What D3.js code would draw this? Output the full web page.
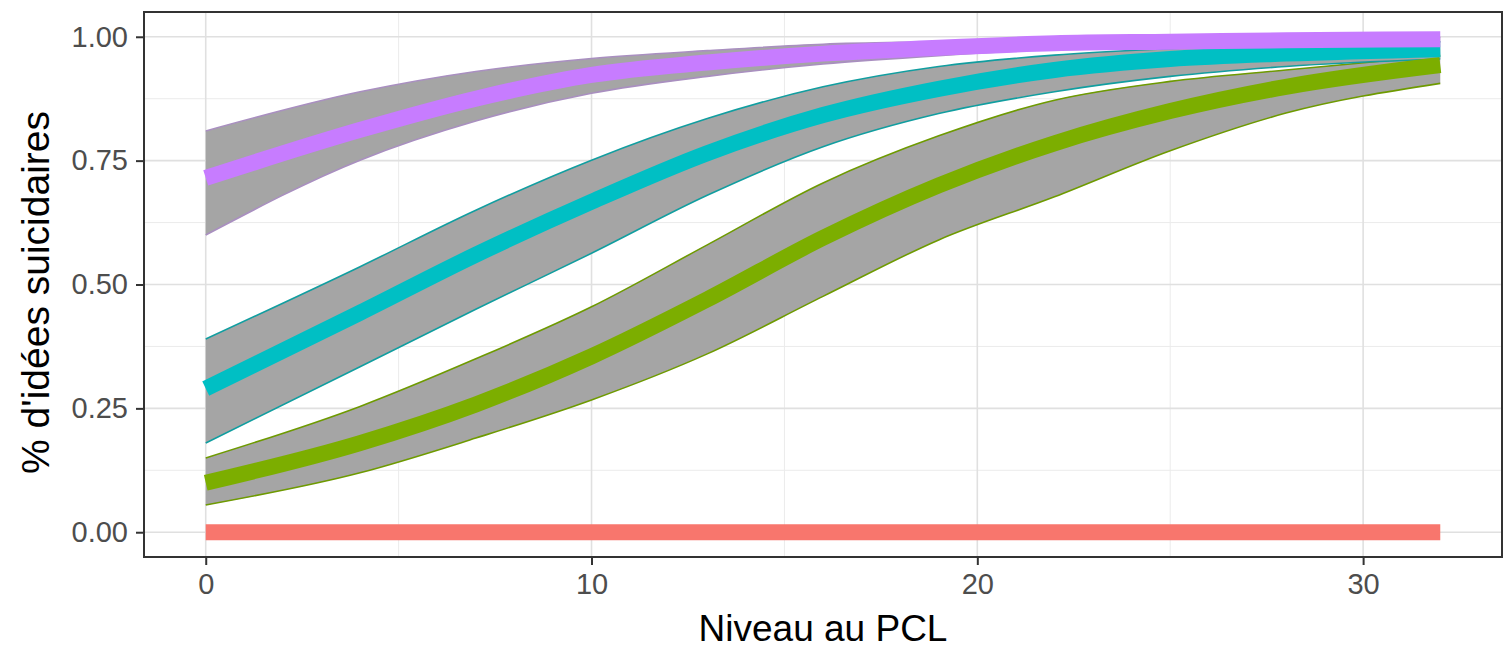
<!DOCTYPE html>
<html>
<head>
<meta charset="utf-8">
<script src="https://cdn.jsdelivr.net/npm/d3@7"></script>
<style>
  body { margin: 0; background: #fff; }
  text { font-family: "Liberation Sans", Arial, sans-serif; }
</style>
</head>
<body>
<div id="chart"></div>
<script>
// Chart size
var svgWidth = 1506;
var svgHeight = 651;

// Panel position (pixels)
var panel = { left: 144, right: 1502, top: 12, bottom: 557 };

// Data
var pcl = [0, 4, 7, 10, 13, 16, 19, 22, 25, 28, 32];

var purpleMean = [0.715, 0.812, 0.875, 0.923, 0.948, 0.966, 0.978, 0.987, 0.990, 0.993, 0.995];
var purpleHigh = [0.810, 0.889, 0.930, 0.956, 0.972, 0.985, 0.990, 0.995, 0.997, 0.998, 0.999];
var purpleLow  = [0.600, 0.751, 0.830, 0.886, 0.920, 0.945, 0.962, 0.975, 0.982, 0.987, 0.990];

var tealMean = [0.290, 0.443, 0.560, 0.667, 0.765, 0.842, 0.895, 0.933, 0.955, 0.966, 0.975];
var tealHigh = [0.390, 0.536, 0.650, 0.751, 0.835, 0.899, 0.940, 0.963, 0.976, 0.985, 0.990];
var tealLow  = [0.180, 0.334, 0.450, 0.563, 0.680, 0.778, 0.845, 0.889, 0.920, 0.940, 0.955];

var greenMean = [0.100, 0.180, 0.258, 0.355, 0.470, 0.594, 0.700, 0.785, 0.850, 0.899, 0.943];
var greenHigh = [0.150, 0.254, 0.350, 0.455, 0.580, 0.705, 0.800, 0.872, 0.910, 0.933, 0.962];
var greenLow  = [0.055, 0.120, 0.190, 0.267, 0.360, 0.476, 0.590, 0.677, 0.770, 0.846, 0.906];

var redMean = [0, 0, 0, 0, 0, 0, 0, 0, 0, 0, 0];

var xTicks = [0, 10, 20, 30];
var xMinor = [5, 15, 25];
var yTicks = [0, 0.25, 0.5, 0.75, 1];
var yMinor = [0.125, 0.375, 0.625, 0.875];

// Series in drawing order (ggplot default hues)
var series = [
  { name: "red",    color: "#F8766D", mean: redMean,    low: null,      high: null,       edge: null },
  { name: "green",  color: "#7CAE00", mean: greenMean,  low: greenLow,  high: greenHigh,  edge: "#6E9A00" },
  { name: "teal",   color: "#00BFC4", mean: tealMean,   low: tealLow,   high: tealHigh,   edge: "#119EA0" },
  { name: "purple", color: "#C77CFF", mean: purpleMean, low: purpleLow, high: purpleHigh, edge: "#A98FC0" }
];

var svg = d3.select("#chart")
  .append("svg")
  .attr("width", svgWidth)
  .attr("height", svgHeight);

// Scales with ggplot-like 5% expansion
var xScale = d3.scaleLinear()
  .domain([-1.6, 33.6])
  .range([panel.left, panel.right]);

var yScale = d3.scaleLinear()
  .domain([-0.05, 1.05])
  .range([panel.bottom, panel.top]);

// Grid lines
var grid = svg.append("g");
grid.selectAll(".xminor").data(xMinor).enter().append("line")
  .attr("x1", d => xScale(d)).attr("x2", d => xScale(d))
  .attr("y1", panel.top).attr("y2", panel.bottom)
  .attr("stroke", "#ebebeb").attr("stroke-width", 1);
grid.selectAll(".yminor").data(yMinor).enter().append("line")
  .attr("x1", panel.left).attr("x2", panel.right)
  .attr("y1", d => yScale(d)).attr("y2", d => yScale(d))
  .attr("stroke", "#ebebeb").attr("stroke-width", 1);
grid.selectAll(".xmajor").data(xTicks).enter().append("line")
  .attr("x1", d => xScale(d)).attr("x2", d => xScale(d))
  .attr("y1", panel.top).attr("y2", panel.bottom)
  .attr("stroke", "#e0e0e0").attr("stroke-width", 1.6);
grid.selectAll(".ymajor").data(yTicks).enter().append("line")
  .attr("x1", panel.left).attr("x2", panel.right)
  .attr("y1", d => yScale(d)).attr("y2", d => yScale(d))
  .attr("stroke", "#e0e0e0").attr("stroke-width", 1.6);

// Ribbons (confidence bands)
var area = d3.area()
  .x((d, i) => xScale(pcl[i]))
  .y0(d => yScale(d[0]))
  .y1(d => yScale(d[1]))
  .curve(d3.curveMonotoneX);

var bandLine = d3.line()
  .x((d, i) => xScale(pcl[i]))
  .y(d => yScale(d))
  .curve(d3.curveMonotoneX);

series.filter(s => s.low).forEach(function(s) {
  var pts = s.low.map((v, i) => [v, s.high[i]]);
  svg.append("path")
    .attr("d", area(pts))
    .attr("fill", "#a5a5a5");
  svg.append("path")
    .attr("d", bandLine(s.low))
    .attr("fill", "none").attr("stroke", s.edge).attr("stroke-width", 1.6);
  svg.append("path")
    .attr("d", bandLine(s.high))
    .attr("fill", "none").attr("stroke", s.edge).attr("stroke-width", 1.6);
});

// Mean lines
series.forEach(function(s) {
  svg.append("path")
    .attr("d", bandLine(s.mean))
    .attr("fill", "none")
    .attr("stroke", s.color)
    .attr("stroke-width", 16);
});

// Panel border
svg.append("rect")
  .attr("x", panel.left).attr("y", panel.top)
  .attr("width", panel.right - panel.left)
  .attr("height", panel.bottom - panel.top)
  .attr("fill", "none")
  .attr("stroke", "#333333")
  .attr("stroke-width", 2);

// Axes
var bottomAxis = d3.axisBottom(xScale)
  .tickValues(xTicks)
  .tickSizeInner(8).tickSizeOuter(0).tickPadding(8)
  .tickFormat(d3.format("d"));
var leftAxis = d3.axisLeft(yScale)
  .tickValues(yTicks)
  .tickSizeInner(8).tickSizeOuter(0).tickPadding(8)
  .tickFormat(d3.format(".2f"));

var xAxisG = svg.append("g")
  .attr("transform", `translate(0, ${panel.bottom})`)
  .call(bottomAxis);
var yAxisG = svg.append("g")
  .attr("transform", `translate(${panel.left}, 0)`)
  .call(leftAxis);

[xAxisG, yAxisG].forEach(function(g) {
  g.select(".domain").remove();
  g.selectAll(".tick line").attr("stroke", "#333333").attr("stroke-width", 2);
  g.selectAll(".tick text")
    .attr("fill", "#4d4d4d")
    .style("font-size", "29px")
    .style("font-family", "'Liberation Sans', Arial, sans-serif");
});

// Axis titles
svg.append("text")
  .attr("x", (panel.left + panel.right) / 2)
  .attr("y", 641)
  .attr("text-anchor", "middle")
  .attr("fill", "#000")
  .style("font-size", "37px")
  .text("Niveau au PCL");

svg.append("text")
  .attr("transform", `translate(49, ${(panel.top + panel.bottom) / 2 + 8}) rotate(-90)`)
  .attr("text-anchor", "middle")
  .attr("fill", "#000")
  .style("font-size", "39px")
  .text("% d'idées suicidaires");
</script>
</body>
</html>
